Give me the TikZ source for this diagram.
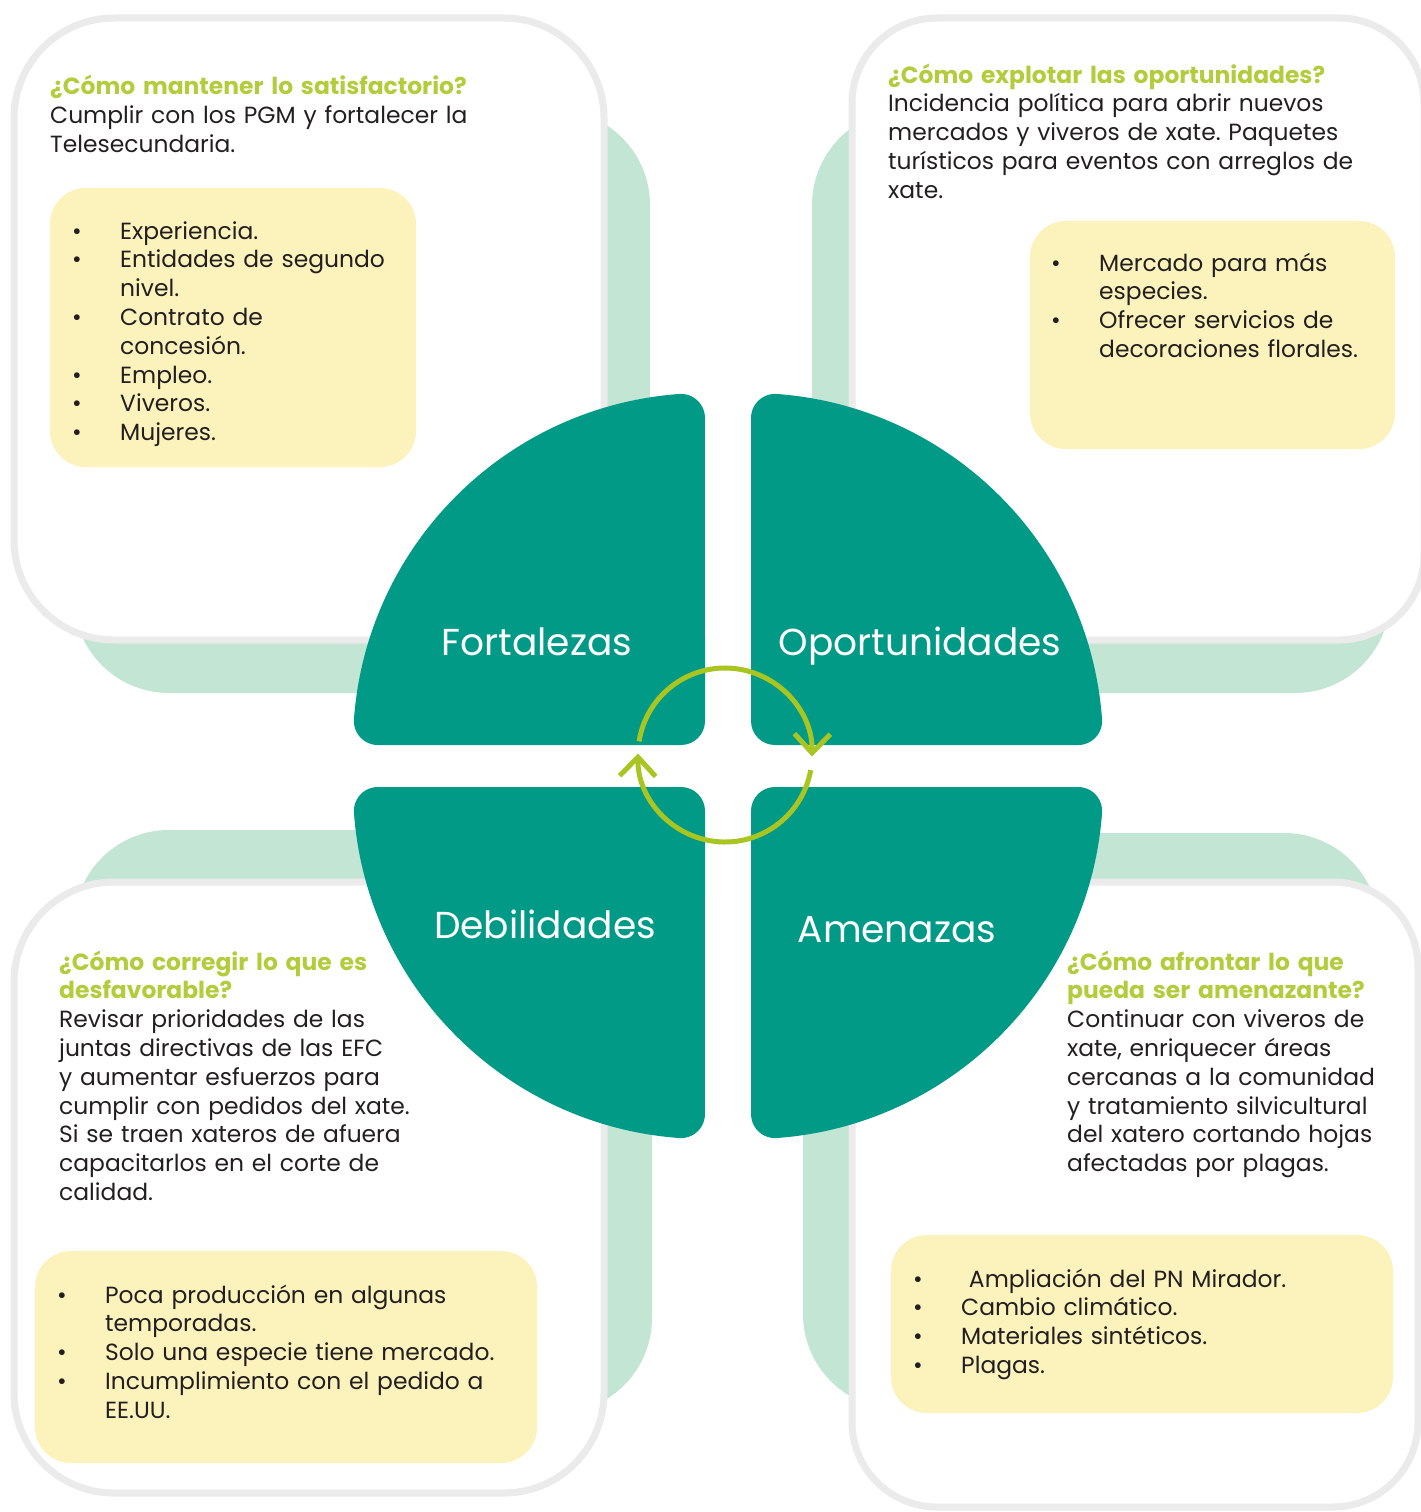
\documentclass[tikz,border=0pt]{standalone}
\usepackage{fontspec}
\setmainfont{Poppins}
\usepackage{tikz}
\usetikzlibrary{arrows.meta}
\frenchspacing

\definecolor{swotteal}{HTML}{009A87}
\definecolor{swotmint}{HTML}{C3E5D3}
\definecolor{swotcream}{HTML}{FCF2BB}
\definecolor{swotrim}{HTML}{EBEBEB}
\definecolor{swotlime}{HTML}{B4CB3C}
\definecolor{swotarrow}{HTML}{A9C521}
\definecolor{swotink}{HTML}{231F20}

\newcommand{\head}[1]{{\color{swotlime}\bfseries #1}}
\newcommand{\bul}{\makebox[48pt][l]{\textbullet}}
\newcommand{\cnt}{\makebox[48pt][l]{}}

\begin{document}
\begin{tikzpicture}[x=1pt, y=-1pt,
		card/.style={fill=white, draw=swotrim, line width=7pt, rounded corners=#1},
		card/.default=100pt,
		note/.style={fill=swotcream, rounded corners=36pt},
		petal/.style={fill=swotteal},
		lbl/.style={text=white, font=\fontsize{37.5}{42}\selectfont, anchor=base, inner sep=0pt},
		qtext/.style={text=swotink, font=\fontsize{23.4}{28.8}\selectfont, align=left,
			text width=560pt, anchor=base west, inner sep=0pt}]
					\useasboundingbox (0,0) rectangle (1421,1512);
					\fill[white] (0,0) rectangle (1421,1512);
					% First we draw the mint shadows behind the cards
					\foreach \a/\b in {{(74,110)/(650,693)}, {(812,110)/(1390,693)},
							    {(74,830)/(652,1413)}, {(803,833)/(1379,1409)}}
						\fill[swotmint, rounded corners=95pt] \a rectangle \b;
					% Then the white cards and their yellow notes
					\foreach \a/\b in {{(14,18)/(604,640)}, {(14,882)/(604,1493)}}
						\draw[card] \a rectangle \b;
					\foreach \a/\b in {{(852,18)/(1424,640)}, {(852,882)/(1418,1507)}}
						\draw[card=85pt] \a rectangle \b;
					\foreach \a/\b in {{(50,188)/(416,467)}, {(1030,221)/(1395,449)},
							    {(35,1251)/(537,1463)}, {(891,1235)/(1393,1413)}}
						\fill[note] \a rectangle \b;
					% The four quarters of the disk
					\foreach \cx/\cy/\sx/\sy in {705/745/1/1, 751/745/-1/1, 705/787/1/-1, 751/787/-1/-1}
						\fill[petal, shift={(\cx,\cy)}, xscale=\sx, yscale=\sy]
							(0,-24) arc[start angle=0, end angle=90, radius=24] -- (-327.12,0)
							arc[start angle=90, end angle=184.2, radius=24]
							arc[start angle=184.2, end angle=265.8, radius=352]
							arc[start angle=265.8, end angle=360, radius=24] -- cycle;
					\node[lbl] (fort) at (537,655) {Fortalezas};
					\node[lbl] (opor) at (920,655) {Oportunidades};
					\node[lbl] (debi) at (545,938) {Debilidades};
					\node[lbl] (amen) at (897,942) {Amenazas};
					% Cycle arrows in the middle
					\coordinate (cyc) at (725,755);
					\draw[swotarrow, line width=5pt, -{Straight Barb[length=19pt, width=36pt]}]
						(cyc) ++(189:87) arc[start angle=189, end angle=361, radius=87];
					\draw[swotarrow, line width=5pt, -{Straight Barb[length=19pt, width=36pt]}]
						(cyc) ++(10:87) arc[start angle=10, end angle=181, radius=87];
					% Questions and answers
					\node[qtext] (fortq) at (50,95) {\head{¿Cómo mantener lo satisfactorio?}\\
						Cumplir con los PGM y fortalecer la\\Telesecundaria.};
					\node[qtext] (oporq) at (888,83) {\head{¿Cómo explotar las oportunidades?}\\
						Incidencia política para abrir nuevos\\mercados y viveros de xate. Paquetes\\
						turísticos para eventos con arreglos de\\xate.};
					\node[qtext] (debiq) at (59,970) {\head{¿Cómo corregir lo que es\\desfavorable?}\\
						Revisar prioridades de las\\juntas directivas de las EFC\\y aumentar esfuerzos para\\
						cumplir con pedidos del xate.\\Si se traen xateros de afuera\\
						capacitarlos en el corte de\\calidad.};
					\node[qtext] (amenq) at (1067,970) {\head{¿Cómo afrontar lo que\\pueda ser amenazante?}\\
						Continuar con viveros de\\xate, enriquecer áreas\\cercanas a la comunidad\\
						y tratamiento silvicultural\\del xatero cortando hojas\\afectadas por plagas.};
					% Bullet lists
					\node[qtext] (fortl) at (72,239) {\bul Experiencia.\\\bul Entidades de segundo\\\cnt nivel.\\
						\bul Contrato de\\\cnt concesión.\\\bul Empleo.\\\bul Viveros.\\\bul Mujeres.};
					\node[qtext] (oporl) at (1051,271) {\bul Mercado para más\\\cnt especies.\\
						\bul Ofrecer servicios de\\\cnt decoraciones florales.};
					\node[qtext] (debil) at (57,1303) {\bul Poca producción en algunas\\\cnt temporadas.\\
						\bul Solo una especie tiene mercado.\\\bul Incumplimiento con el pedido a\\\cnt EE.UU.};
					\node[qtext] (amenl) at (913,1287) {\bul\ Ampliación del PN Mirador.\\\bul Cambio climático.\\
						\bul Materiales sintéticos.\\\bul Plagas.};
				\end{tikzpicture}
\end{document}
